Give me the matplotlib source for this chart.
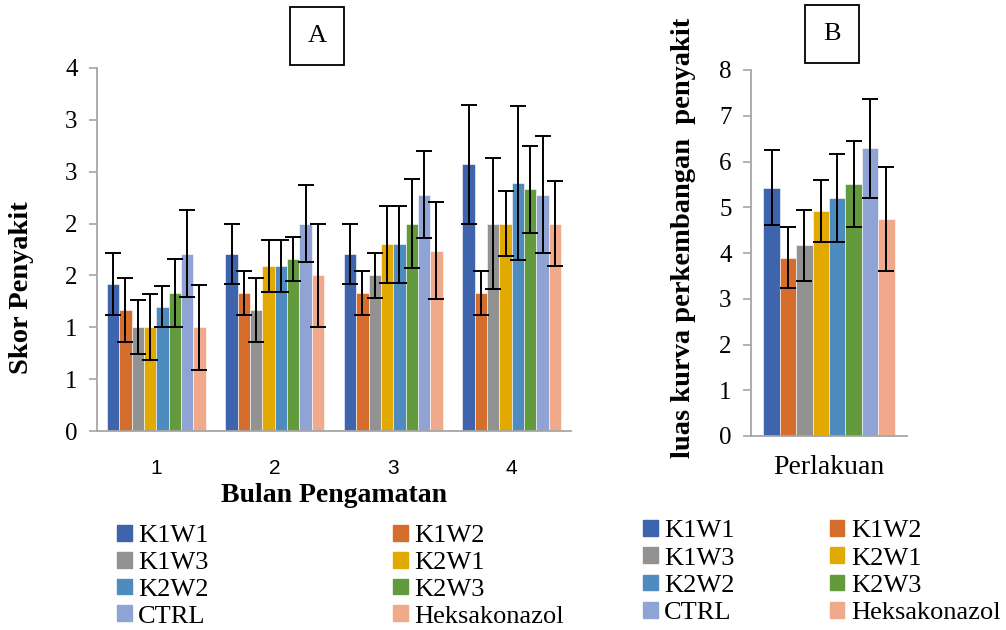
import numpy as np
import matplotlib.pyplot as plt
from matplotlib.patches import Patch

plt.rcParams['font.family'] = ['Liberation Serif', 'DejaVu Serif']

treatments = ['K1W1', 'K1W2', 'K1W3', 'K2W1', 'K2W2', 'K2W3', 'CTRL', 'Heksakonazol']
colors = ['#3D64AD', '#D56D2C', '#929292', '#E2AA00', '#4E8BBF', '#629A3D', '#8FA4D5', '#F1A98C']

# panel A: disease score per month (rows = treatments, cols = month 1..4)
months = ['1', '2', '3', '4']
score = [
    [1.42, 1.71, 1.71, 2.57],
    [1.17, 1.33, 1.33, 1.33],
    [1.00, 1.17, 1.50, 2.00],
    [1.00, 1.59, 1.80, 2.00],
    [1.20, 1.59, 1.80, 2.39],
    [1.33, 1.66, 2.00, 2.33],
    [1.71, 2.00, 2.28, 2.28],
    [1.00, 1.50, 1.74, 2.00],
]
score_err = [
    [0.30, 0.29, 0.29, 0.57],
    [0.31, 0.21, 0.21, 0.21],
    [0.26, 0.31, 0.22, 0.63],
    [0.32, 0.25, 0.37, 0.31],
    [0.20, 0.25, 0.37, 0.74],
    [0.33, 0.21, 0.43, 0.42],
    [0.42, 0.37, 0.42, 0.56],
    [0.41, 0.50, 0.47, 0.41],
]
yticks_a = [0, 0.5, 1, 1.5, 2, 2.5, 3, 3.5]
yticklabels_a = ['0', '1', '1', '2', '2', '3', '3', '4']

# panel B: area under disease progress curve
audpc = [5.43, 3.90, 4.17, 4.92, 5.20, 5.50, 6.29, 4.74]
audpc_err = [0.82, 0.67, 0.78, 0.68, 0.97, 0.94, 1.08, 1.14]

W, H = 1006, 630
fig = plt.figure(figsize=(W / 100, H / 100), dpi=100)

def px_axes(x0, y0, x1, y1):
    return fig.add_axes([x0 / W, 1 - y1 / H, (x1 - x0) / W, (y1 - y0) / H])

def style(ax):
    for s in ['top', 'right']:
        ax.spines[s].set_visible(False)
    for s in ['left', 'bottom']:
        ax.spines[s].set_color('#A6A6A6')
        ax.spines[s].set_linewidth(1.3)
    ax.tick_params(axis='y', colors='#A6A6A6', length=6, width=1.2, labelcolor='black', labelsize=18, pad=8)
    ax.tick_params(axis='x', length=0)

ebar = dict(ecolor='black', elinewidth=1.4, capsize=5.5, capthick=1.4)

# ---- panel A
axA = px_axes(97, 68, 571, 431)
bw = 0.104
x = np.arange(len(months))
for i, t in enumerate(treatments):
    off = (i - 3.5) * bw
    axA.bar(x + off, score[i], bw, color=colors[i], edgecolor='white', linewidth=0.4,
            yerr=score_err[i], error_kw=ebar, label=t)
axA.set_xlim(-0.5, 3.5)
axA.set_ylim(0, 3.5)
axA.set_yticks(yticks_a)
axA.set_yticklabels(yticklabels_a)
axA.set_xticks(x)
axA.set_xticklabels(months, family='Liberation Sans', fontsize=15)
style(axA)
axA.tick_params(axis='x', pad=20)
axA.set_xlabel('Bulan Pengamatan', fontsize=20, fontweight='bold', labelpad=4)
fig.text(22 / W, 1 - 288 / H, 'Skor Penyakit', rotation=90, fontsize=20.5, fontweight='bold',
         ha='center', va='center')

# ---- panel B
axB = px_axes(751, 70, 907, 436)
bwB = 0.105
for i, t in enumerate(treatments):
    off = (i - 3.5) * bwB
    axB.bar(off, audpc[i], bwB, color=colors[i], edgecolor='white', linewidth=0.4,
            yerr=audpc_err[i], error_kw=ebar, label=t)
axB.set_xlim(-0.5, 0.5)
axB.set_ylim(0, 8)
axB.set_yticks(range(0, 9))
axB.set_xticks([0])
axB.set_xticklabels(['Perlakuan'], fontsize=20)
style(axB)
axB.tick_params(axis='x', pad=14)
fig.text(683 / W, 1 - 238 / H, 'luas kurva perkembangan  penyakit', rotation=90, fontsize=20.5,
         fontweight='bold', ha='center', va='center')

# panel letters
for cx, cy, letter in [(317, 36, 'A'), (832, 34, 'B')]:
    fig.text(cx / W, 1 - cy / H, letter, fontsize=19, ha='center', va='center',
             bbox=dict(boxstyle='square,pad=0.68', facecolor='white', edgecolor='black', linewidth=1.3))

# legends (row-major order in two columns)
handles = [Patch(color=c) for c in colors]
order = list(range(0, 8, 2)) + list(range(1, 8, 2))
hs = [handles[k] for k in order]
ls = [treatments[k] for k in order]
leg_kw = dict(ncol=2, frameon=False, fontsize=19, handlelength=0.55, handleheight=0.55,
              handletextpad=0.25, borderpad=0, borderaxespad=0, loc='upper left')
fig.legend(hs, ls, bbox_to_anchor=(117 / W, 1 - 525 / H), columnspacing=7.0, labelspacing=0.17, **leg_kw)
fig.legend(hs, ls, bbox_to_anchor=(643 / W, 1 - 520 / H), columnspacing=3.6, labelspacing=0.19, **leg_kw)

fig.savefig('out.png', dpi=100)
